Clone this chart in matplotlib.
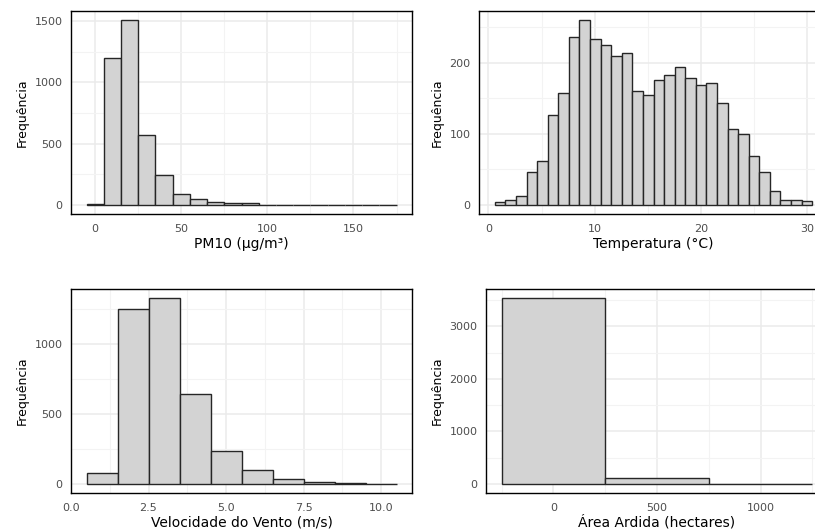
import numpy as np
import matplotlib
matplotlib.use("Agg")
import matplotlib.pyplot as plt
from matplotlib.ticker import AutoMinorLocator

# histogram counts
pm10_edges = [-5, 5, 15, 25, 35, 45, 55, 65, 75, 85, 95, 105, 115, 125, 135, 145, 155, 165, 175]
pm10_counts = [8, 1195, 1508, 570, 245, 94, 46, 22, 15, 14, 2, 1, 1, 0, 0, 1, 0, 1]

temp_start, temp_width = 0.6, 0.995
temp_counts = [4, 7, 13, 47, 62, 127, 158, 236, 260, 233, 225, 209, 213, 160, 154,
               175, 182, 194, 179, 169, 171, 144, 107, 100, 69, 47, 20, 7, 7, 5]

wind_edges = [0.5, 1.5, 2.5, 3.5, 4.5, 5.5, 6.5, 7.5, 8.5, 9.5, 10.5]
wind_counts = [78, 1250, 1323, 642, 230, 99, 31, 12, 2, 1]

area_edges = [-250, 250, 750, 1250]
area_counts = [3538, 114, 3]

temp_edges = temp_start + temp_width * np.arange(len(temp_counts) + 1)

W, H = 815, 532
fig = plt.figure(figsize=(W / 100, H / 100), dpi=100)
fig.patch.set_facecolor("white")

def px_axes(x0, x1, ytop, ybot):
    return fig.add_axes([x0 / W, (H - ybot) / H, (x1 - x0) / W, (ybot - ytop) / H])

def hist_panel(ax, edges, counts, xlabel, xticks, xticklabels, yticks):
    edges = np.asarray(edges, dtype=float)
    counts = np.asarray(counts, dtype=float)
    ax.bar(edges[:-1], counts, width=np.diff(edges), align="edge",
           color="#D3D3D3", edgecolor="#262626", linewidth=1.0, zorder=3)
    span = edges[-1] - edges[0]
    ax.set_xlim(edges[0] - 0.05 * span, edges[-1] + 0.05 * span)
    top = counts.max()
    ax.set_ylim(-0.05 * top, 1.05 * top)
    ax.set_xticks(xticks)
    ax.set_xticklabels(xticklabels)
    ax.set_yticks(yticks)
    ax.xaxis.set_minor_locator(AutoMinorLocator(2))
    ax.yaxis.set_minor_locator(AutoMinorLocator(2))
    ax.grid(which="major", color="#EBEBEB", linewidth=1.1, zorder=0)
    ax.grid(which="minor", color="#F3F3F3", linewidth=0.8, zorder=0)
    ax.set_axisbelow(True)
    ax.tick_params(which="both", length=0, labelsize=8, labelcolor="#4D4D4D")
    ax.tick_params(axis="x", pad=7)
    ax.tick_params(axis="y", pad=6)
    for s in ax.spines.values():
        s.set_color("black")
        s.set_linewidth(1.0)
    ax.set_xlabel(xlabel, fontsize=10, labelpad=2)
    ax.set_ylabel("Frequência", fontsize=9, labelpad=4)

ax1 = px_axes(71, 412, 10.7, 214.3)
hist_panel(ax1, pm10_edges, pm10_counts, "PM10 (µg/m³)",
           [0, 50, 100, 150], ["0", "50", "100", "150"], [0, 500, 1000, 1500])

ax2 = px_axes(479, 828, 10.7, 214.3)
hist_panel(ax2, temp_edges, temp_counts, "Temperatura (°C)",
           [0, 10, 20, 30], ["0", "10", "20", "30"], [0, 100, 200])

ax3 = px_axes(71, 412, 289, 493)
hist_panel(ax3, wind_edges, wind_counts, "Velocidade do Vento (m/s)",
           [0, 2.5, 5, 7.5, 10], ["0.0", "2.5", "5.0", "7.5", "10.0"], [0, 500, 1000])

ax4 = px_axes(486, 828, 289, 493)
hist_panel(ax4, area_edges, area_counts, "Área Ardida (hectares)",
           [0, 500, 1000], ["0", "500", "1000"], [0, 1000, 2000, 3000])

fig.savefig("out.png", dpi=100, facecolor="white")
